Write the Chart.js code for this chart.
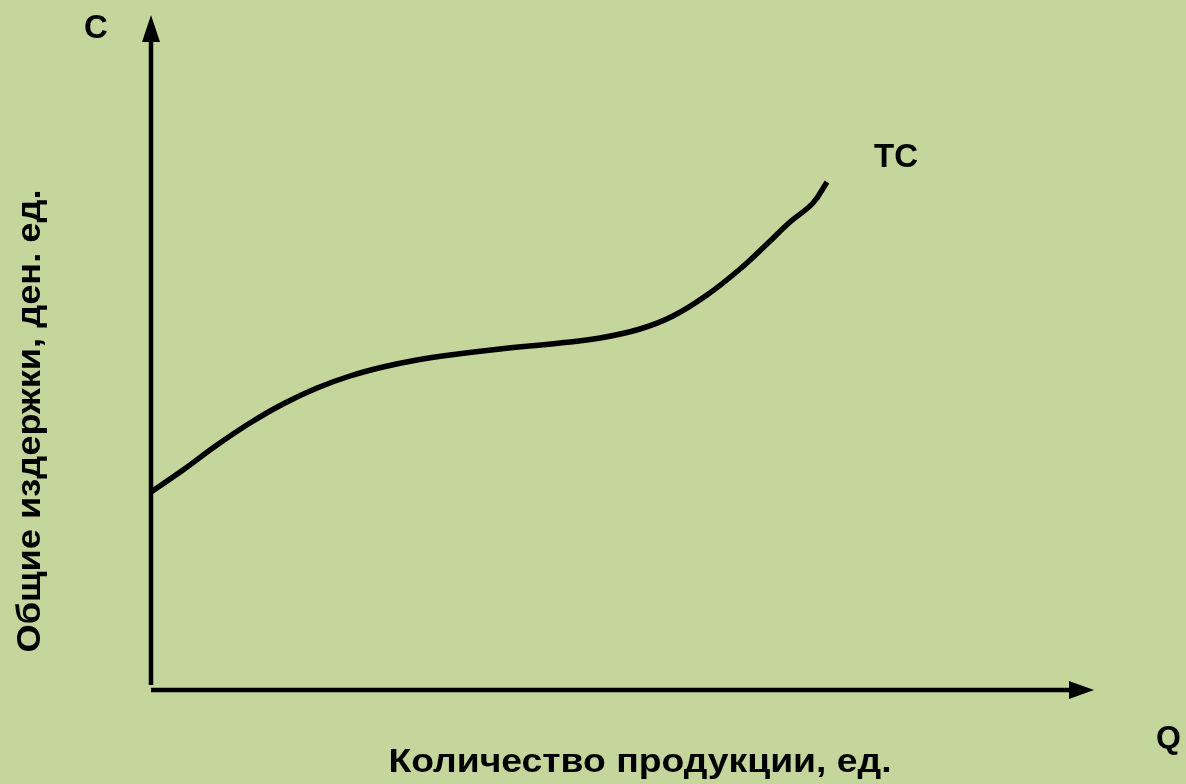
<!DOCTYPE html>
<html>
<head>
<meta charset="utf-8">
<script src="https://cdn.jsdelivr.net/npm/chart.js@4.4.1/dist/chart.umd.min.js"></script>
<style>
html,body{margin:0;padding:0;background:rgb(196,214,155);}
#wrap{width:1186px;height:784px;position:relative;}
</style>
</head>
<body>
<div id="wrap"><canvas id="c"></canvas></div>
<script>
// Quantity (Q) values and total cost (TC) values
const quantity = [0, 3.2, 6.6, 9.9, 13.2, 16.6, 19.9, 23.2, 26.6, 29.9, 34.9, 40.9, 44.9, 48.9, 52.2, 55.6, 58.9, 61.6, 63.9, 66.2, 67.6];
const totalCost = [19.8, 22.0, 24.5, 26.7, 28.6, 30.2, 31.4, 32.3, 33.0, 33.5, 34.1, 34.7, 35.2, 36.1, 37.4, 39.5, 42.1, 44.6, 46.8, 48.7, 50.8];
const seriesLabel = 'TC';
const yAxisLetter = 'C';
const xAxisLetter = 'Q';
const xTitle = 'Количество продукции, ед.';
const yTitle = 'Общие издержки, ден. ед.';
const xMax = 94.3;
const yMax = 67.5;

const points = quantity.map((q, i) => ({x: q, y: totalCost[i]}));
const FONT = '"Liberation Sans", Arial, sans-serif';

function fitText(ctx, text, width) {
  const w = ctx.measureText(text).width;
  return width / w;
}

const axesPlugin = {
  id: 'axesPlugin',
  afterDraw(chart) {
    const ctx = chart.ctx;
    const xs = chart.scales.x, ys = chart.scales.y;
    const x0 = xs.getPixelForValue(0), y0 = ys.getPixelForValue(0);
    const xEnd = xs.getPixelForValue(xMax), yEnd = ys.getPixelForValue(yMax);
    ctx.save();
    ctx.fillStyle = '#000';
    ctx.strokeStyle = '#000';
    // y axis
    ctx.lineWidth = 4.5;
    ctx.beginPath();
    ctx.moveTo(x0, y0 - 5);
    ctx.lineTo(x0, yEnd + 22);
    ctx.stroke();
    ctx.beginPath();
    ctx.moveTo(x0, yEnd);
    ctx.lineTo(x0 - 9, yEnd + 27);
    ctx.lineTo(x0 + 9, yEnd + 27);
    ctx.closePath();
    ctx.fill();
    // x axis
    ctx.lineWidth = 4.5;
    ctx.beginPath();
    ctx.moveTo(x0, y0);
    ctx.lineTo(xEnd - 20, y0);
    ctx.stroke();
    ctx.beginPath();
    ctx.moveTo(xEnd, y0);
    ctx.lineTo(xEnd - 25, y0 - 9);
    ctx.lineTo(xEnd - 25, y0 + 9);
    ctx.closePath();
    ctx.fill();
    // labels
    ctx.font = 'bold 33px ' + FONT;
    ctx.textBaseline = 'alphabetic';
    ctx.textAlign = 'left';
    ctx.fillText(yAxisLetter, 84, 38);
    ctx.fillText(seriesLabel, 874, 167);
    ctx.font = 'bold 32px ' + FONT;
    ctx.fillText(xAxisLetter, 1156, 748);
    // axis titles
    ctx.font = 'bold 34px ' + FONT;
    ctx.textAlign = 'center';
    ctx.save();
    ctx.translate(640, 772);
    ctx.scale(fitText(ctx, xTitle, 503), 1);
    ctx.fillText(xTitle, 0, 0);
    ctx.restore();
    ctx.save();
    ctx.translate(40, 421);
    ctx.rotate(-Math.PI / 2);
    ctx.scale(fitText(ctx, yTitle, 463), 1);
    ctx.fillText(yTitle, 0, 0);
    ctx.restore();
    ctx.restore();
  }
};

new Chart(document.getElementById('c'), {
  type: 'line',
  data: {
    datasets: [{
      label: seriesLabel,
      data: points,
      borderColor: '#000',
      borderWidth: 5.5,
      pointRadius: 0,
      fill: false,
      tension: 0.4,
      borderCapStyle: 'butt'
    }]
  },
  options: {
    responsive: true,
    maintainAspectRatio: false,
    animation: false,
    layout: {padding: {left: 151, top: 15, right: 92, bottom: 94}},
    plugins: {legend: {display: false}, tooltip: {enabled: false}},
    scales: {
      x: {type: 'linear', min: 0, max: xMax, display: false},
      y: {type: 'linear', min: 0, max: yMax, display: false}
    }
  },
  plugins: [axesPlugin]
});
</script>
</body>
</html>
